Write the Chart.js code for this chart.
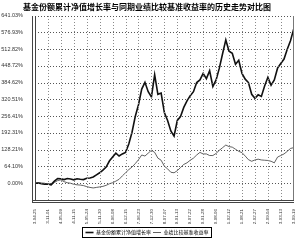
<!DOCTYPE html>
<html>
<head>
<meta charset="utf-8">
<script src="https://cdn.jsdelivr.net/npm/chart.js@4.4.1/dist/chart.umd.min.js"></script>
<style>
html, body { margin: 0; padding: 0; background: #fff; }
</style>
</head>
<body>
<canvas id="line-chart" width="300" height="241"></canvas>
<script>
// x axis dates (one every 4 data points)
var dateLabels = ["2003-04-25", "2003-11-01", "2004-05-09", "2004-11-15", "2005-05-24", "2005-11-30",
    "2006-06-08", "2006-12-15", "2007-06-23", "2007-12-30", "2008-07-07", "2009-01-13",
    "2009-07-22", "2010-01-28", "2010-08-06", "2011-02-12", "2011-08-21", "2012-02-27",
    "2012-09-04", "2013-03-13", "2013-09-19"];

var yTickLabels = ["", "0.00%", "64.10%", "128.21%", "192.31%", "256.41%", "320.51%",
    "384.62%", "448.72%", "512.82%", "576.93%", "641.03%"];
var yTickValues = [-64.103, 0, 64.103, 128.205, 192.308, 256.41, 320.513, 384.615, 448.718, 512.82, 576.923, 641.03];

// 基金份额累计净值增长率 (%)
var fundGrowth = [0, 1, -2, -4, -3, -5, 8, 18, 17, 14, 18, 16, 13, 17, 15, 14, 19, 20, 24, 32,
    40, 50, 62, 85, 100, 115, 104, 112, 118, 150, 195, 255, 300, 360, 386, 350, 330, 415, 340, 345,
    270, 240, 200, 180, 240, 255, 290, 315, 335, 350, 385, 395, 420, 400, 430, 370, 395, 440, 495, 548,
    505, 497, 455, 470, 420, 398, 385, 340, 325, 338, 332, 372, 405, 375, 395, 440, 458, 475, 512, 545, 590];

// 业绩比较基准收益率 (%)
var benchGrowth = [0, 2, 1, 0, -4, -8, 3, 10, 13, 6, 2, 0, -4, -6, -7, -9, -13, -16, -18, -16,
    -14, -12, -8, -2, 2, 8, 15, 28, 40, 52, 62, 75, 90, 108, 104, 115, 126, 118, 96, 88,
    65, 55, 42, 40, 48, 60, 72, 78, 88, 96, 108, 118, 112, 112, 106, 106, 114, 126, 136, 146,
    140, 138, 130, 122, 117, 104, 90, 84, 89, 92, 89, 88, 87, 84, 78, 100, 106, 112, 122, 133, 136];

var pointsPerLabel = 4;
var legendPad = 2;
var legendShift = 4;

function toPoints(arr) {
    return arr.map(function (v, i) { return { x: i / pointsPerLabel, y: v }; });
}

// plot box from the scales' own value->pixel mapping
function plotBox(chart) {
    var xs = chart.scales.x, ys = chart.scales.y;
    return {
        left: Math.round(xs.getPixelForValue(0)),
        right: Math.round(xs.getPixelForValue(dateLabels.length - 1)),
        top: Math.round(ys.getPixelForValue(yTickValues[yTickValues.length - 1])),
        bottom: Math.round(ys.getPixelForValue(yTickValues[0]))
    };
}

// dotted grid + frame, drawn with fillRect
function drawGridAndFrame(chart) {
    var a = plotBox(chart), ctx = chart.ctx;
    var xs = chart.scales.x, ys = chart.scales.y;
    var i, k;
    ctx.save();
    ctx.fillStyle = '#8a8a8a';
    for (i = 1; i < dateLabels.length - 1; i++) {
        var px = Math.round(xs.getPixelForValue(i));
        for (k = a.top; k < a.bottom + 4; k += 3) ctx.fillRect(px, k, 1, 1);
    }
    ctx.fillStyle = '#555';
    for (i = 1; i < yTickValues.length; i++) {
        var py = Math.round(ys.getPixelForValue(yTickValues[i]));
        for (k = a.left; k < a.right; k += 3) ctx.fillRect(k, py, 1, 1);
    }
    ctx.fillStyle = '#444';
    ctx.fillRect(a.left - 3, a.top, 1, a.bottom - a.top + 3);
    ctx.fillRect(a.left, a.top, 1, a.bottom - a.top);
    ctx.fillRect(a.left - 3, a.bottom, a.right - a.left + 3, 1);
    ctx.fillRect(a.left - 3, a.bottom + 2, a.right - a.left + 3, 1);
    ctx.fillStyle = '#777';
    ctx.fillRect(a.right - 1, a.top, 1, a.bottom - a.top);
    ctx.restore();
}

function drawLegendBox(chart) {
    var lg = chart.legend;
    var boxes = lg && lg.legendHitBoxes;
    if (!boxes || !boxes.length) return;
    var l = Infinity, r = -Infinity;
    boxes.forEach(function (h) {
        l = Math.min(l, h.left); r = Math.max(r, h.left + h.width);
    });
    var t = lg.top + legendPad;
    var ctx = chart.ctx;
    ctx.save();
    ctx.strokeStyle = '#000';
    ctx.lineWidth = 1;
    ctx.strokeRect(Math.round(l - 3) + 0.5, Math.round(t - 3) + 0.5, Math.round(r - l + 6), 10);
    ctx.restore();
}

var framePlugin = {
    id: 'frameLines',
    afterLayout: function (chart) {
        // push the legend row a little lower
        chart.legend.top += legendShift;
        chart.legend.bottom += legendShift;
    },
    afterDraw: function (chart) {
        drawGridAndFrame(chart);
        drawLegendBox(chart);
    }
};

new Chart(document.getElementById("line-chart"), {
    type: 'line',
    data: {
        datasets: [{
            label: "基金份额累计净值增长率",
            data: toPoints(fundGrowth),
            borderColor: '#111',
            backgroundColor: '#111',
            borderWidth: 1.6,
            pointRadius: 0,
            tension: 0
        }, {
            label: "业绩比较基准收益率",
            data: toPoints(benchGrowth),
            borderColor: '#3a3a3a',
            backgroundColor: '#3a3a3a',
            borderWidth: 0.8,
            pointRadius: 0,
            tension: 0
        }]
    },
    options: {
        responsive: false,
        animation: false,
        layout: { padding: { left: 0, right: 6, top: 0, bottom: 0 } },
        plugins: {
            title: {
                display: true,
                text: '基金份额累计净值增长率与同期业绩比较基准收益率的历史走势对比图',
                color: '#000',
                font: { family: '"Noto Sans CJK SC"', size: 8, weight: 'bold' },
                padding: { top: 2, bottom: 4 }
            },
            legend: {
                position: 'bottom',
                labels: {
                    usePointStyle: true,
                    pointStyle: 'line',
                    pointStyleWidth: 8,
                    color: '#000',
                    padding: legendPad,
                    font: { family: '"Noto Sans CJK SC"', size: 5 }
                }
            },
            tooltip: { enabled: false }
        },
        scales: {
            x: {
                type: 'linear',
                min: 0,
                max: dateLabels.length - 1,
                afterBuildTicks: function (scale) {
                    scale.ticks = dateLabels.map(function (d, i) { return { value: i }; });
                },
                afterFit: function (scale) { scale.height = 24; },
                ticks: {
                    autoSkip: false,
                    minRotation: 90,
                    maxRotation: 90,
                    padding: 1,
                    color: '#333',
                    font: { family: '"Liberation Sans"', size: 4.4 },
                    callback: function (value) { return dateLabels[value]; }
                },
                grid: { display: false },
                border: { display: false }
            },
            y: {
                min: yTickValues[0],
                max: yTickValues[yTickValues.length - 1],
                afterBuildTicks: function (scale) {
                    scale.ticks = yTickValues.map(function (v) { return { value: v }; });
                },
                afterFit: function (scale) { scale.width = 35; },
                ticks: {
                    padding: 4,
                    color: '#333',
                    font: { family: '"Liberation Sans"', size: 5.5 },
                    callback: function (value, i) { return yTickLabels[i]; }
                },
                grid: { display: false },
                border: { display: false }
            }
        }
    },
    plugins: [framePlugin]
});
</script>
</body>
</html>
